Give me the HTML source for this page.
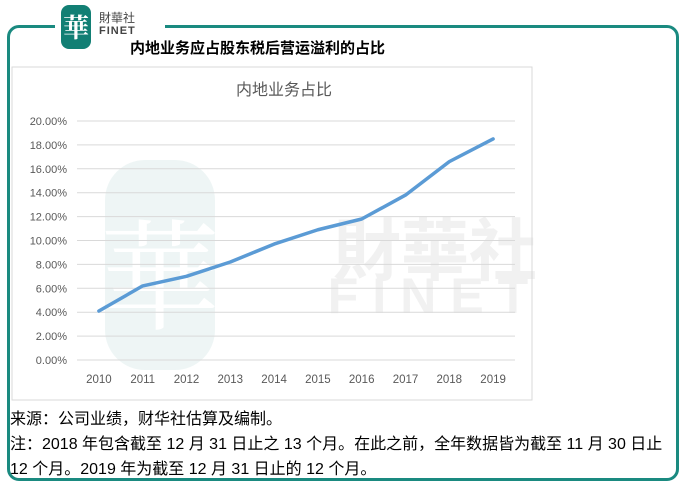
<!DOCTYPE html>
<html><head><meta charset="utf-8"><style>
body{margin:0;width:688px;height:489px;background:#fff;position:relative;overflow:hidden;font-family:"Liberation Sans","Noto Sans CJK SC",sans-serif}
.frame{position:absolute;left:7px;top:25px;width:672px;height:456px;border:3px solid #1a8a80;border-radius:12px;box-sizing:border-box}
.logo{position:absolute;left:55px;top:3px;width:110px;height:48px;background:#fff}
.note{position:absolute;left:10px;font-size:16px;color:#000;white-space:nowrap}
</style></head><body>
<div class="frame"></div>
<div class="logo">
<div style="position:absolute;left:6px;top:2px;width:30px;height:44px;background:#127f74;border-radius:8px;color:#fff;font:bold 26px 'Noto Serif CJK SC',serif;text-align:center;line-height:44px">華</div>
<div style="position:absolute;left:44px;top:8px;font-size:12px;color:#444;font-family:'Noto Sans CJK TC',sans-serif;line-height:13px">財華社</div>
<div style="position:absolute;left:44px;top:22px;font-size:11px;color:#444;letter-spacing:1px;font-weight:bold">FINET</div>
</div>
<div style="position:absolute;left:130px;top:37px;font-size:15px;font-weight:bold;color:#000">内地业务应占股东税后营运溢利的占比</div>
<svg width="688" height="489" style="position:absolute;left:0;top:0" id="chart">
<rect x="12" y="67" width="520" height="333" fill="none" stroke="#d9d9d9"/>
<text x="284" y="95" font-size="16" fill="#595959" text-anchor="middle" font-family="Liberation Sans,Noto Sans CJK SC,sans-serif">内地业务占比</text>
<g opacity="0.35">
<rect x="105" y="160" width="110" height="210" rx="40" fill="#cfe5e3"/>
<text x="160" y="320" font-size="120" fill="#fff" text-anchor="middle" font-family="Noto Serif CJK SC,serif">華</text>
<text x="435" y="275" font-size="68" fill="#d8d8d8" text-anchor="middle" font-family="Noto Sans CJK TC,sans-serif" font-weight="bold">財華社</text>
<text x="435" y="313" font-size="50" fill="#d8d8d8" text-anchor="middle" font-weight="bold" letter-spacing="14">FINET</text>
</g>
<g id="grid"></g><g id="ylab"></g><g id="xlab"></g><g id="series"></g>
</svg>
<div class="note" style="top:405px">来源：公司业绩，财华社估算及编制。</div>
<div class="note" style="top:430px">注：2018 年包含截至 12 月 31 日止之 13 个月。在此之前，全年数据皆为截至 11 月 30 日止</div>
<div class="note" style="top:455px">12 个月。2019 年为截至 12 月 31 日止的 12 个月。</div>
<script>
const categories=["2010","2011","2012","2013","2014","2015","2016","2017","2018","2019"];
const shareValues=[4.1,6.2,7.0,8.2,9.7,10.9,11.8,13.8,16.6,18.5];
const yTicks=[0,2,4,6,8,10,12,14,16,18,20];
const NS="http://www.w3.org/2000/svg";
const x0=77,x1=515,y0=360,y1=121;
const yMax=20;
function yPos(v){return y0-(v/yMax)*(y0-y1);}
const step=(x1-x0)/categories.length;
function xPos(i){return x0+step*(i+0.5);}
const grid=document.getElementById('grid'),ylab=document.getElementById('ylab'),xlab=document.getElementById('xlab'),series=document.getElementById('series');
yTicks.forEach(t=>{
const l=document.createElementNS(NS,'line');
l.setAttribute('x1',x0);l.setAttribute('x2',x1);l.setAttribute('y1',yPos(t));l.setAttribute('y2',yPos(t));
l.setAttribute('stroke','#d9d9d9');


grid.appendChild(l);
const tx=document.createElementNS(NS,'text');
tx.setAttribute('x',67);tx.setAttribute('y',yPos(t)+4);tx.setAttribute('text-anchor','end');
tx.setAttribute('font-size','11');tx.setAttribute('fill','#595959');
tx.textContent=t.toFixed(2)+'%';


ylab.appendChild(tx);
});
categories.forEach((c,i)=>{
const tx=document.createElementNS(NS,'text');
tx.setAttribute('x',xPos(i));tx.setAttribute('y',383);tx.setAttribute('text-anchor','middle');
tx.setAttribute('font-size','11.5');tx.setAttribute('fill','#595959');
tx.textContent=c;


xlab.appendChild(tx);
});
const p=document.createElementNS(NS,'polyline');
p.setAttribute('points',shareValues.map((v,i)=>xPos(i)+','+yPos(v)).join(' '));
p.setAttribute('fill','none');p.setAttribute('stroke','#5b9bd5');p.setAttribute('stroke-width','3.5');
p.setAttribute('stroke-linejoin','round');p.setAttribute('stroke-linecap','round');


series.appendChild(p);
</script>
</body></html>
